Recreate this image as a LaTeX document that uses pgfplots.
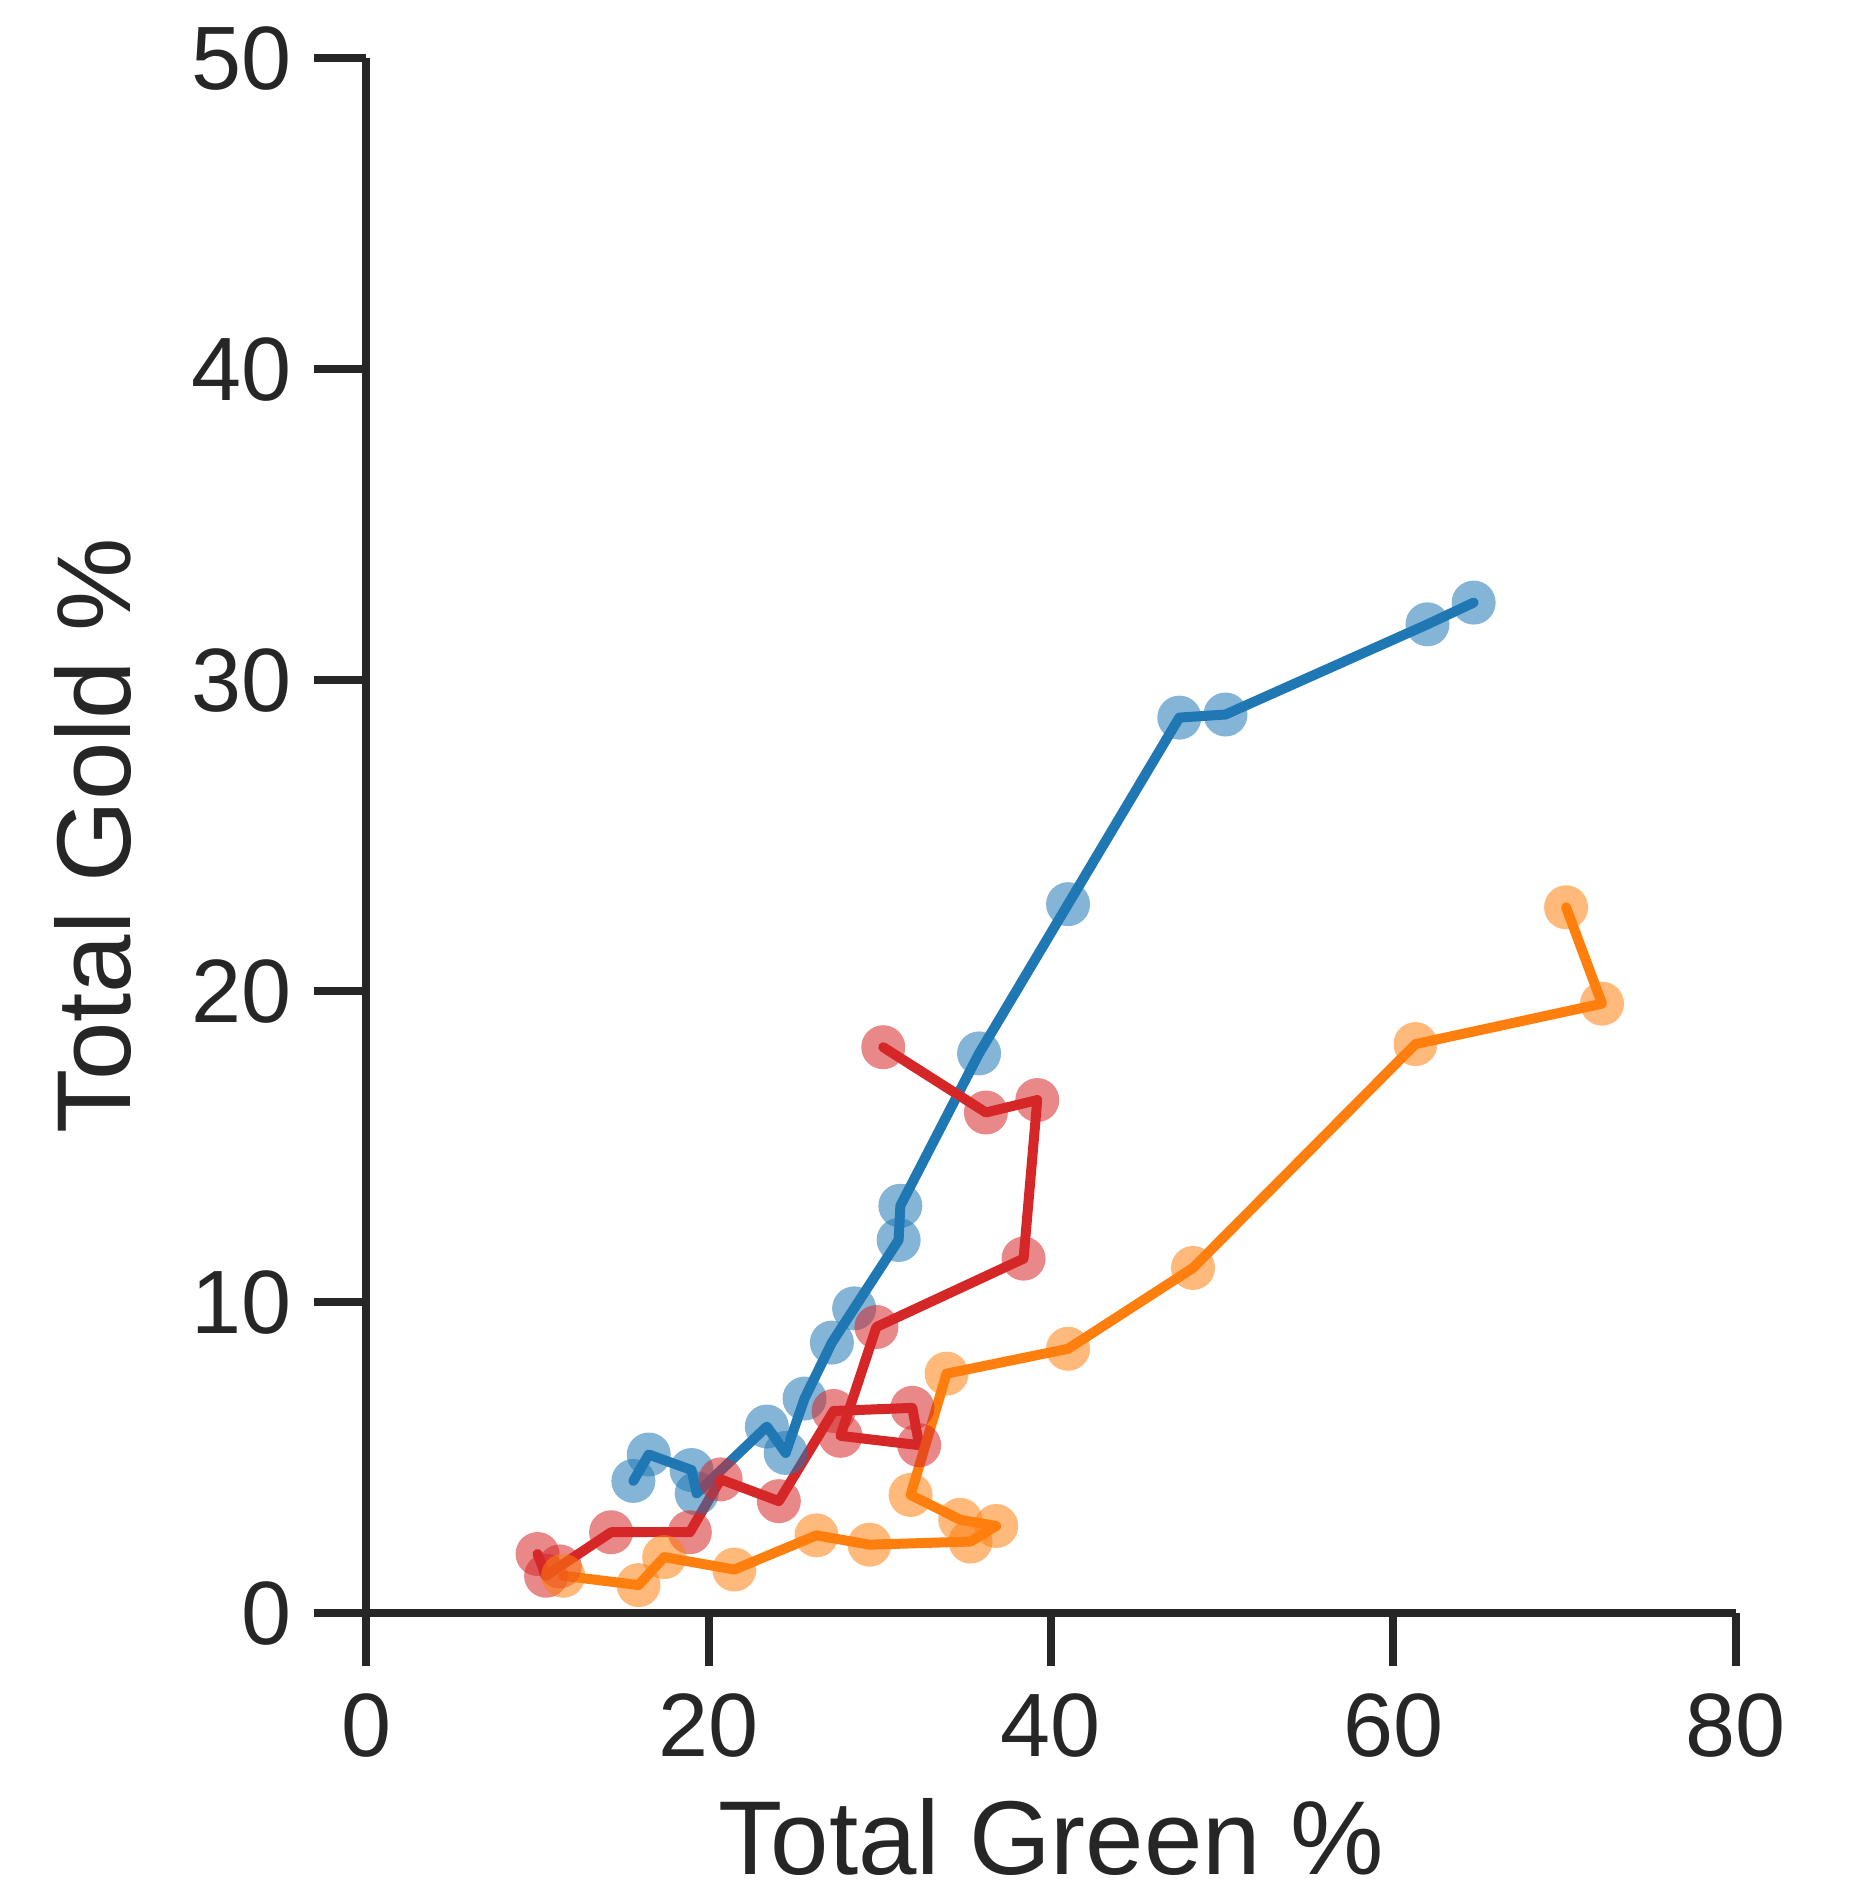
\documentclass[border=0pt]{standalone}
\usepackage{fontspec}
\setmainfont{Liberation Sans}
\usepackage{pgfplots}
\pgfplotsset{compat=1.18}
\definecolor{tabblue}{HTML}{1F77B4}
\definecolor{taborange}{HTML}{FF7F0E}
\definecolor{tabred}{HTML}{D62728}
\definecolor{axgray}{HTML}{262626}
\begin{document}
\begin{tikzpicture}
\begin{axis}[
  name=ax,
  scale only axis,
  width=273.9pt, height=311pt,
  xmin=0, xmax=80, ymin=0, ymax=50,
  axis lines=left,
  axis line style={axgray, line width=1.6pt, -},
  xtick={0,20,40,60,80}, ytick={0,10,20,30,40,50},
  tick style={axgray, line width=1.6pt},
  tick align=outside,
  major tick length=10.5pt,
  xtick pos=bottom, ytick pos=left,
  /pgf/number format/assume math mode=true,
  ticklabel style={font=\fontsize{18}{20}\selectfont, text=axgray},
  xticklabel style={yshift=-2pt},
  yticklabel style={xshift=-1pt},
  xlabel={Total Green \%}, ylabel={Total Gold \%},
  label style={font=\fontsize{21}{24}\selectfont, text=axgray},
  xlabel style={yshift=-1.5pt},
  ylabel style={yshift=5pt},
  clip=false,
  every axis plot/.append style={line join=round, line cap=round},
]
\addplot[tabblue, line width=2pt, mark=*, mark size=4.4pt, mark options={draw opacity=0, fill=tabblue, fill opacity=0.55}] coordinates {
(15.6,4.25) (16.5,5.1) (19.0,4.6) (19.3,3.85) (23.4,6.0) (24.5,5.15)
(25.6,6.9) (27.2,8.7) (28.5,9.8) (31.1,12.0) (31.2,13.1) (35.8,18.0)
(41.0,22.8) (47.5,28.8) (50.2,28.9) (62.0,31.8) (64.7,32.5)
};
\addplot[tabred, line width=2pt, mark=*, mark size=4.4pt, mark options={draw opacity=0, fill=tabred, fill opacity=0.55}] coordinates {
(10.0,1.9) (10.5,1.2) (11.3,1.5) (14.3,2.6) (18.9,2.6) (20.7,4.3)
(24.1,3.6) (27.3,6.5) (31.9,6.6) (32.3,5.4) (27.7,5.7) (29.8,9.2)
(38.4,11.4) (39.2,16.5) (36.2,16.1) (30.2,18.2)
};
\addplot[taborange, line width=2pt, mark=*, mark size=4.4pt, mark options={draw opacity=0, fill=taborange, fill opacity=0.55}] coordinates {
(11.5,1.2) (15.9,0.9) (17.4,1.8) (21.5,1.4) (26.3,2.5) (29.4,2.2)
(35.3,2.3) (36.8,2.8) (34.7,3.0) (31.8,3.8) (33.9,7.7) (41.0,8.5)
(48.3,11.1) (61.3,18.3) (72.2,19.6) (70.1,22.7)
};
\end{axis}
\pgfresetboundingbox
\path[use as bounding box] ([shift={(-73.3pt,-56.6pt)}]ax.south west) rectangle ([shift={(22.6pt,11.7pt)}]ax.north east);
\end{tikzpicture}
\end{document}
